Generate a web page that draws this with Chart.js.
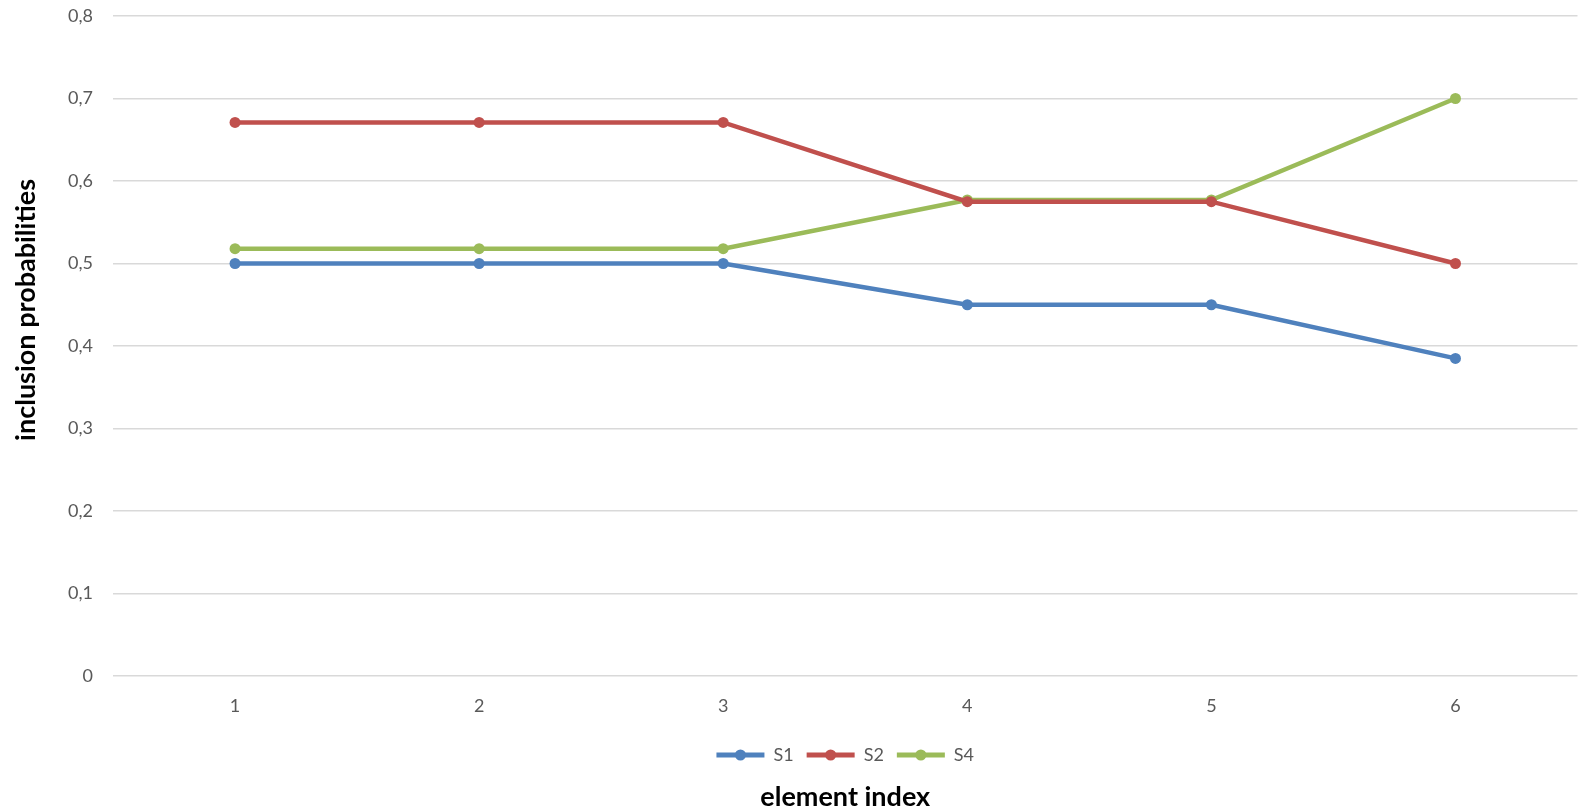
<!DOCTYPE html>
<html>
<head>
<meta charset="utf-8">
<script src="https://cdn.jsdelivr.net/npm/chart.js@4.4.1/dist/chart.umd.min.js"></script>
<style>
  html, body { margin: 0; padding: 0; background: #fff; }
  #wrap { width: 1583px; height: 811px; }
</style>
</head>
<body>
<div id="wrap"><canvas id="c" width="1583" height="811"></canvas></div>
<script>
// element indices on the x axis
const categories = ['1', '2', '3', '4', '5', '6'];
// inclusion probabilities per sample design
const s1 = [0.5, 0.5, 0.5, 0.45, 0.45, 0.385];
const s2 = [0.671, 0.671, 0.671, 0.575, 0.575, 0.5];
const s4 = [0.518, 0.518, 0.518, 0.577, 0.577, 0.7];
const seriesNames = ['S1', 'S2', 'S4'];
const colors = ['#4f81bd', '#c0504d', '#9bbb59'];

const FONT = "Lato, 'Liberation Sans', sans-serif";
const TICK_COLOR = '#595959';

function ds(label, data, color) {
  return {
    label, data,
    borderColor: color, backgroundColor: color,
    borderWidth: 4.5, pointRadius: 5.5, pointHoverRadius: 5.5,
    pointBorderWidth: 0, tension: 0
  };
}

// puts a round marker in the middle of each legend line sample
const legendDots = {
  id: 'legendDots',
  afterDraw(chart) {
    const lg = chart.legend;
    if (!lg || !lg.legendHitBoxes) return;
    const ctx = chart.ctx;
    const bw = lg.options.labels.boxWidth;
    lg.legendHitBoxes.forEach((hb, i) => {
      const cx = hb.left + bw / 2;
      const cy = hb.top + hb.height / 2;
      ctx.save();
      ctx.fillStyle = colors[i];
      ctx.beginPath();
      ctx.arc(cx, cy, 5.5, 0, Math.PI * 2);
      ctx.fill();
      ctx.restore();
    });
  }
};

new Chart(document.getElementById('c'), {
  type: 'line',
  data: {
    labels: categories,
    datasets: [
      ds(seriesNames[0], s1, colors[0]),
      ds(seriesNames[1], s2, colors[1]),
      ds(seriesNames[2], s4, colors[2])
    ]
  },
  options: {
    responsive: false,
    animation: false,
    layout: { padding: { top: 0, right: 4, left: 0, bottom: 0 } },
    plugins: {
      tooltip: { enabled: false },
      legend: {
        position: 'bottom',
        fullSize: false,
        labels: {
          boxWidth: 48, boxHeight: 5, padding: 13,
          color: TICK_COLOR,
          font: { family: FONT, size: 18 },
          generateLabels(chart) {
            return chart.data.datasets.map((d, i) => ({
              text: d.label, fillStyle: d.borderColor, strokeStyle: d.borderColor,
              lineWidth: 0, datasetIndex: i, fontColor: TICK_COLOR
            }));
          }
        }
      },
      title: {
        display: true,
        position: 'bottom',
        fullSize: false,
        text: 'element index',
        color: '#000',
        font: { family: FONT, size: 27, weight: 'bold', lineHeight: 1 },
        padding: { top: 10, bottom: 0 }
      }
    },
    scales: {
      x: {
        offset: true,
        grid: { display: false, drawTicks: false },
        border: { display: false },
        ticks: { color: TICK_COLOR, font: { family: FONT, size: 18 }, padding: 19 },
        afterFit(scale) { scale.height = 57; }
      },
      y: {
        min: 0, max: 0.8,
        grid: { color: '#d9d9d9', lineWidth: 1.5, drawTicks: false },
        border: { display: false },
        ticks: {
          stepSize: 0.1,
          color: TICK_COLOR,
          font: { family: FONT, size: 18 },
          padding: 20,
          callback: v => (Math.abs(v) < 1e-9 ? '0' : v.toFixed(1).replace('.', ','))
        },
        title: {
          display: true,
          text: '           inclusion probabilities',
          color: '#000',
          font: { family: FONT, size: 27, weight: 'bold' },
          padding: { top: 10, bottom: 0 }
        },
        afterFit(scale) {
          scale.width = 113;
          scale.paddingTop = 16;
          scale.paddingBottom = 0;
        }
      }
    }
  },
  plugins: [legendDots]
});
</script>
</body>
</html>
